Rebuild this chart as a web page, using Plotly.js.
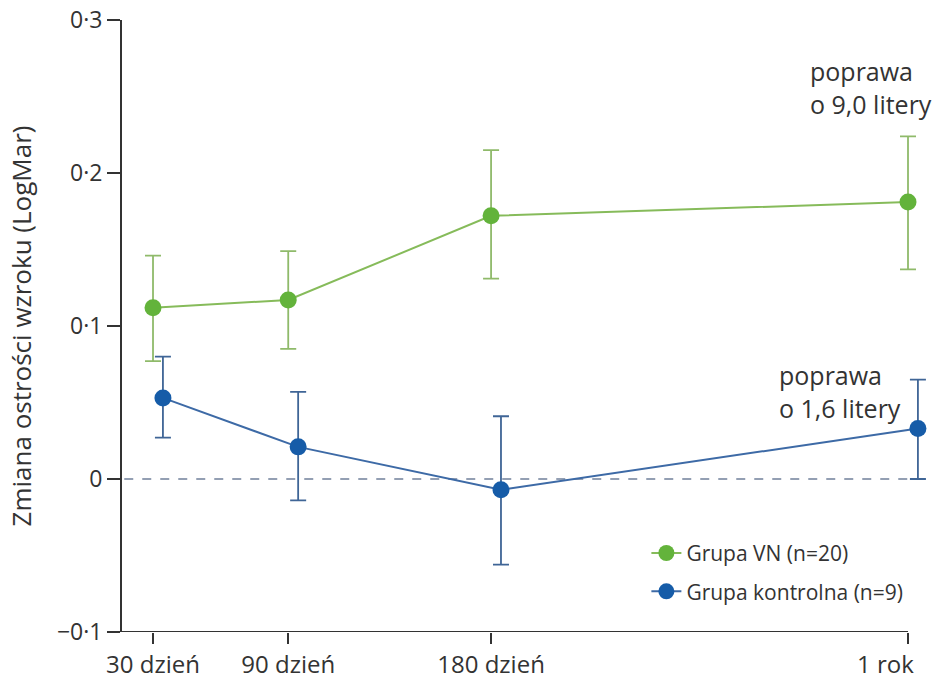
<!DOCTYPE html>
<html>
<head>
<meta charset="utf-8">
<script src="https://cdn.plot.ly/plotly-3.0.1.min.js"></script>
<style>html,body{margin:0;padding:0;background:#fff;}#chart{width:944px;height:689px;}</style>
</head>
<body>
<div id="chart"></div>
<script>
// Data
const days = [30, 90, 180, 365];
const tickLabels = ["30 dzień", "90 dzień", "180 dzień", "1 rok"];
const vnMean = [0.112, 0.117, 0.172, 0.181];
const vnErrPlus = [0.034, 0.032, 0.043, 0.043];
const vnErrMinus = [0.035, 0.032, 0.041, 0.044];
const ctrlMean = [0.053, 0.021, -0.007, 0.033];
const ctrlErrPlus = [0.027, 0.036, 0.048, 0.032];
const ctrlErrMinus = [0.026, 0.035, 0.049, 0.033];
const yTickVals = [-0.1, 0, 0.1, 0.2, 0.3];
const yTickText = ["\u22120\u00b71", "0", "0\u00b71", "0\u00b72", "0\u00b73"];
const seriesNames = ["Grupa VN (n=20)", "Grupa kontrolna (n=9)"];

const dodge = 4.4; // horizontal offset for control group (days)
const xMin = 16.24, xMax = 376.98;
const font = "Open Sans, Noto Sans, sans-serif";

// the last label sits right-aligned near the axis end in the original, so it is drawn as an annotation
const lastIdx = tickLabels.length - 1;
const tickTextShown = tickLabels.map((t, i) => i === lastIdx ? "" : t);

const traces = [
  {
    x: days, y: vnMean, name: seriesNames[0], type: "scatter", mode: "lines+markers",
    legendgroup: "a",
    line: {color: "#86bb5a", width: 2},
    marker: {color: "#63b33b", size: 17},
    error_y: {type: "data", symmetric: false, array: vnErrPlus, arrayminus: vnErrMinus,
              color: "#8fba6a", thickness: 1.8, width: 8},
    cliponaxis: false
  },
  {
    x: days.map(d => d + dodge), y: ctrlMean, name: seriesNames[1], type: "scatter", mode: "lines+markers",
    legendgroup: "b",
    line: {color: "#3d6aa6", width: 2},
    marker: {color: "#165ca8", size: 17},
    error_y: {type: "data", symmetric: false, array: ctrlErrPlus, arrayminus: ctrlErrMinus,
              color: "#3f6596", thickness: 1.8, width: 8},
    cliponaxis: false
  }
];

const layout = {
  width: 944, height: 689,
  margin: {l: 122, r: 9, t: 20, b: 57},
  paper_bgcolor: "#fff", plot_bgcolor: "#fff",
  font: {family: font, color: "#333", size: 22},
  showlegend: true,
  legend: {x: 0.645, y: 0.162, xanchor: "left", yanchor: "top",
           font: {family: font, size: 21, color: "#333"}, tracegroupgap: 8,
           bgcolor: "rgba(0,0,0,0)"},
  xaxis: {
    range: [xMin, xMax], tickmode: "array", tickvals: days, ticktext: tickTextShown,
    showline: false, showgrid: false, zeroline: false,
    ticks: "outside", ticklen: 11, tickwidth: 2, tickcolor: "#333",
    tickfont: {family: font, size: 24, color: "#333"}, automargin: false
  },
  yaxis: {
    range: [-0.1, 0.3], tickmode: "array", tickvals: yTickVals, ticktext: yTickText,
    showline: true, linecolor: "#333", linewidth: 2, mirror: false,
    showgrid: false, zeroline: false,
    ticks: "outside", ticklen: 13, tickwidth: 2, tickcolor: "#333",
    tickfont: {family: font, size: 23, color: "#333"}, automargin: false,
    title: {text: "Zmiana ostrości wzroku (LogMar)", font: {family: font, size: 26, color: "#333"}, standoff: 18}
  },
  shapes: [
    {type: "line", xref: "x", yref: "y", x0: xMin, x1: 365, y0: -0.1, y1: -0.1,
     line: {color: "#333", width: 2}},
    {type: "line", xref: "x", yref: "y", x0: xMin + 1, x1: 365, y0: 0, y1: 0,
     line: {color: "#70809a", width: 1.5, dash: "dash"}, layer: "below"}
  ],
  annotations: [
    {xref: "x", yref: "y", x: 320.5, y: 0.256, xanchor: "left", yanchor: "middle", align: "left",
     showarrow: false, text: "poprawa<br>o 9,0 litery", font: {family: font, size: 25, color: "#333"}},
    {xref: "x", yref: "y", x: 307, y: 0.057, xanchor: "left", yanchor: "middle", align: "left",
     showarrow: false, text: "poprawa<br>o 1,6 litery", font: {family: font, size: 25, color: "#333"}},
    {xref: "x", yref: "paper", x: days[lastIdx], y: -0.0507, xanchor: "right", yanchor: "middle",
     xshift: 8, showarrow: false, text: tickLabels[lastIdx], font: {family: font, size: 24, color: "#333"}}
  ]
};

Plotly.newPlot("chart", traces, layout, {displayModeBar: false, staticPlot: true});
</script>
</body>
</html>
